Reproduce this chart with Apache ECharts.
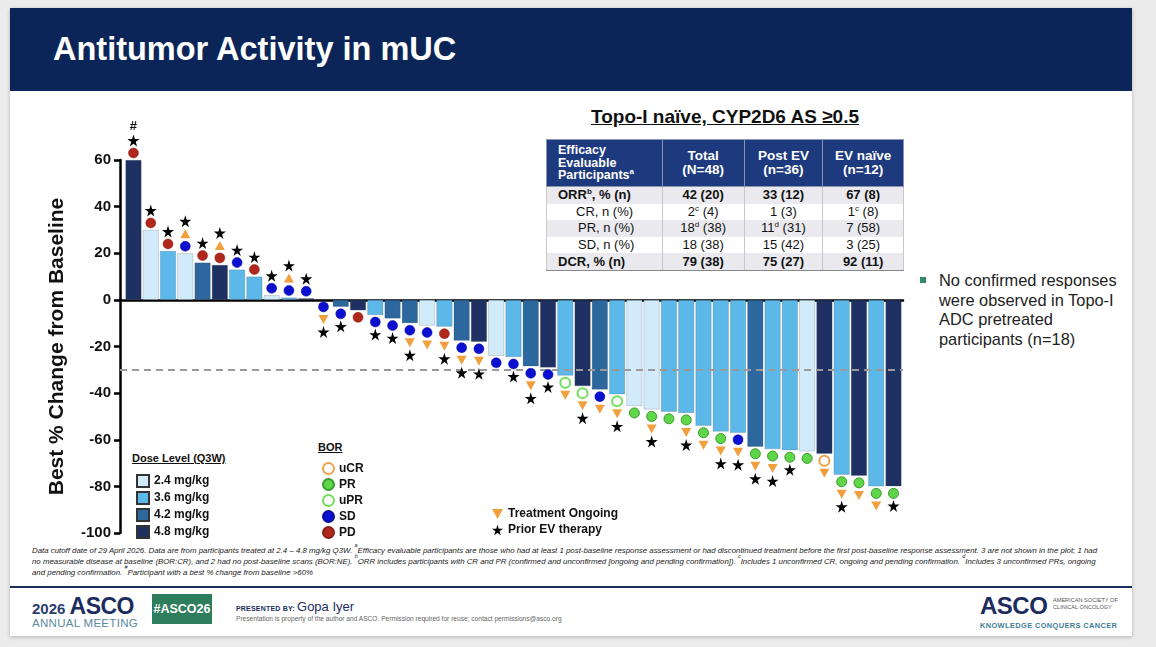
<!DOCTYPE html>
<html>
<head>
<meta charset="utf-8">
<script src="https://cdn.jsdelivr.net/npm/echarts@6/dist/echarts.min.js"></script>
<style>
  html, body { margin: 0; padding: 0; }
  body { width: 1156px; height: 647px; background: #ececec; position: relative; overflow: hidden;
         font-family: 'Liberation Sans', Arial, sans-serif; color: #111; }
  #slide { position: absolute; left: 10px; top: 8px; width: 1122px; height: 628px; background: #fff;
           box-shadow: 0 1px 4px rgba(0,0,0,0.25); }
  #titlebar { position: absolute; left: 10px; top: 8px; width: 1122px; height: 83px; background: #0c2559; }
  #title { position: absolute; left: 53px; top: 31px; color: #fff; font-weight: bold; font-size: 32.5px; }
  #chart { position: absolute; left: 0; top: 0; width: 1156px; height: 647px; }
  #tblTitle { position: absolute; left: 546px; width: 358px; top: 106px; text-align: center;
              font-weight: bold; font-size: 19px; text-decoration: underline; }
  #tbl { position: absolute; left: 546px; top: 139px; width: 358px; border-collapse: collapse; font-size: 13px; }
  #tbl th { background: #1e3a7e; color: #fff; font-weight: bold; height: 46px; padding: 0; line-height: 14px;
            border: 1px solid #8a93b0; text-align: center; font-size: 13.5px; }
  #tbl th.c1 { text-align: left; padding-left: 11px; font-size: 12.5px; line-height: 12.5px; }
  #tbl td { height: 16.6px; padding: 0; text-align: center; border-left: 1px solid #c8c8c8; border-right: 1px solid #c8c8c8; line-height: 16px; }
  #tbl td.c1 { text-align: left; padding-left: 11px; }
  #tbl td.ind { padding-left: 29px; }
  #tbl td.ind2 { padding-left: 31px; }
  #tbl tr.g td { background: #e9e9ee; }
  #tbl tr.b td { font-weight: bold; }
  #tbl tr:last-child td { border-bottom: 1px solid #888; }
  #tbl sup { font-size: 8px; line-height: 0; }
  #note { position: absolute; left: 939px; top: 271px; font-size: 16.4px; line-height: 19.5px; color: #222; white-space: nowrap; }
  #bullet { position: absolute; left: 920px; top: 277px; width: 6px; height: 6px; background: #2f8a6c; }
  .lghd { position: absolute; font-weight: bold; font-size: 11px; text-decoration: underline; color: #111; }
  #foot { position: absolute; left: 32px; top: 546px; font-size: 7.85px; line-height: 10.8px; font-style: italic;
          color: #222; white-space: nowrap; }
  #foot sup { font-size: 5.5px; line-height: 0; vertical-align: top; position: relative; top: -1px; }
  #rule { position: absolute; left: 10px; top: 586px; width: 1122px; height: 2px; background: #1c2e5a; }
  #logoL { position: absolute; left: 32px; top: 593px; color: #1c2c5e; white-space: nowrap; }
  #logoL .y { font-size: 15px; font-weight: bold; color: #2b3d6e; }
  #logoL .a { font-size: 23px; font-weight: 900; letter-spacing: -0.5px; }
  #logoL .m { position: absolute; left: 0; top: 24px; font-size: 11.5px; color: #5d8a9e; white-space: nowrap; letter-spacing: 0.3px; }
  #hash { position: absolute; left: 152px; top: 594px; width: 60px; height: 30px; background: #2e7d5c; color: #fff;
          font-weight: bold; font-size: 12.5px; line-height: 30px; text-align: center; }
  #pres { position: absolute; left: 236px; top: 597px; color: #1c2c5e; white-space: nowrap; }
  #pres .s { font-size: 7px; font-weight: bold; letter-spacing: 0.2px; }
  #pres .n { font-size: 13px; }
  #prop { position: absolute; left: 236px; top: 615px; font-size: 6.6px; color: #666; white-space: nowrap; }
  #logoR { position: absolute; left: 980px; top: 592px; color: #1c2c5e; }
  #logoR .a { font-size: 24px; font-weight: 900; letter-spacing: -0.5px; }
  #logoR .s { position: absolute; left: 73px; top: 5px; font-size: 5.6px; line-height: 7px; color: #555; white-space: nowrap; }
  #logoR .k { position: absolute; left: 0; top: 29px; font-size: 7.4px; font-weight: bold; color: #3f7d97; white-space: nowrap; letter-spacing: 0.4px; }
</style>
</head>
<body>
<div id="slide"></div>
<div id="titlebar"></div>
<div id="title">Antitumor Activity in mUC</div>

<div id="tblTitle">Topo-I naïve, CYP2D6 AS ≥0.5</div>
<table id="tbl">
  <colgroup><col style="width:116px"><col style="width:82px"><col style="width:79px"><col style="width:81px"></colgroup>
  <tr><th class="c1">Efficacy<br>Evaluable<br>Participants<sup>a</sup></th><th>Total<br>(N=48)</th><th>Post EV<br>(n=36)</th><th>EV naïve<br>(n=12)</th></tr>
  <tr class="g b"><td class="c1">ORR<sup>b</sup>, % (n)</td><td>42 (20)</td><td>33 (12)</td><td>67 (8)</td></tr>
  <tr><td class="c1 ind">CR, n (%)</td><td>2<sup>c</sup> (4)</td><td>1 (3)</td><td>1<sup>c</sup> (8)</td></tr>
  <tr class="g"><td class="c1 ind2">PR, n (%)</td><td>18<sup>d</sup> (38)</td><td>11<sup>d</sup> (31)</td><td>7 (58)</td></tr>
  <tr><td class="c1 ind2">SD, n (%)</td><td>18 (38)</td><td>15 (42)</td><td>3 (25)</td></tr>
  <tr class="g b"><td class="c1">DCR, % (n)</td><td>79 (38)</td><td>75 (27)</td><td>92 (11)</td></tr>
</table>

<div id="bullet"></div>
<div id="note">No confirmed responses<br>were observed in Topo-I<br>ADC pretreated<br>participants (n=18)</div>

<div class="lghd" style="left:132px;top:452px;">Dose Level (Q3W)</div>
<div class="lghd" style="left:318px;top:441px;">BOR</div>

<div id="foot">Data cutoff date of 29 April 2026. Data are from participants treated at 2.4 – 4.8 mg/kg Q3W. <sup>a</sup>Efficacy evaluable participants are those who had at least 1 post-baseline response assessment or had discontinued treatment before the first post-baseline response assessment. 3 are not shown in the plot; 1 had<br>no measurable disease at baseline (BOR:CR), and 2 had no post-baseline scans (BOR:NE). <sup>b</sup>ORR includes participants with CR and PR (confirmed and unconfirmed [ongoing and pending confirmation]). <sup>c</sup>Includes 1 unconfirmed CR, ongoing and pending confirmation. <sup>d</sup>Includes 3 unconfirmed PRs, ongoing<br>and pending confirmation. <sup>#</sup>Participant with a best % change from baseline &gt;60%</div>
<div id="rule"></div>

<div id="logoL"><span class="y">2026 </span><span class="a">ASCO</span><div class="m">ANNUAL MEETING</div></div>
<div id="hash">#ASCO26</div>
<div id="pres"><span class="s">PRESENTED BY: </span><span class="n">Gopa Iyer</span></div>
<div id="prop">Presentation is property of the author and ASCO. Permission required for reuse; contact permissions@asco.org</div>
<div id="logoR"><span class="a">ASCO</span><div class="s">AMERICAN SOCIETY OF<br>CLINICAL ONCOLOGY</div><div class="k">KNOWLEDGE CONQUERS CANCER</div></div>

<div id="chart"></div>

<script>
// best % change from baseline, one per participant (left to right)
var values = [60, 30, 21, 20, 16, 15, 13, 10, 2, 1,
              0.7, 0, -3, -4.5, -6.5, -8, -10, -11, -11.5, -17.5,
              -18, -24, -24.5, -28.5, -29, -32.5, -37, -38.5, -40.5, -45.5,
              -47, -48, -48.5, -54, -56.5, -57, -63, -64, -64.5, -65,
              -66, -75, -75.5, -80, -80];
var doseLevel = ['4.8', '2.4', '3.6', '2.4', '4.2', '4.8', '3.6', '3.6', '2.4', '3.6',
                 '4.8', '3.6', '4.2', '4.8', '3.6', '4.2', '4.2', '2.4', '3.6', '4.2',
                 '4.8', '2.4', '3.6', '4.2', '4.8', '3.6', '4.8', '4.2', '3.6', '2.4',
                 '2.4', '3.6', '3.6', '3.6', '3.6', '3.6', '4.2', '3.6', '3.6', '2.4',
                 '4.8', '3.6', '4.8', '3.6', '4.8'];
var bor = ['PD', 'PD', 'PD', 'SD', 'PD', 'PD', 'SD', 'PD', 'SD', 'SD',
           'SD', 'SD', 'SD', 'PD', 'SD', 'SD', 'SD', 'SD', 'PD', 'SD',
           'SD', 'SD', 'SD', 'SD', 'SD', 'uPR', 'uPR', 'SD', 'uPR', 'PR',
           'PR', 'PR', 'PR', 'PR', 'PR', 'SD', 'PR', 'PR', 'PR', 'PR',
           'uCR', 'PR', 'PR', 'PR', 'PR'];
var ongoing = [0, 0, 0, 1, 0, 1, 0, 0, 0, 1,
               0, 1, 0, 0, 0, 0, 1, 1, 1, 1,
               1, 0, 0, 1, 0, 1, 1, 1, 1, 0,
               1, 0, 1, 1, 1, 1, 1, 1, 0, 0,
               1, 1, 1, 1, 0];
var priorEV = [1, 1, 1, 1, 1, 1, 1, 1, 1, 1,
               1, 1, 1, 0, 1, 1, 1, 0, 1, 1,
               1, 0, 1, 1, 1, 0, 1, 0, 1, 0,
               1, 0, 1, 0, 1, 1, 1, 1, 1, 0,
               0, 1, 0, 0, 1];
var overMax = [0];   // participants with change > 60%
var yTicks = [-100, 60, 20];  // min, max, step

var doseNames = ['2.4', '3.6', '4.2', '4.8'];
var doseColors = { '2.4': '#d2ebfa', '3.6': '#5cb8e8', '4.2': '#2c679d', '4.8': '#1f3162' };
var borNames = ['uCR', 'PR', 'uPR', 'SD', 'PD'];
var borStyle = {
  uCR: { color: '#fff', borderColor: '#eea24a', borderWidth: 2, opacity: 1 },
  PR:  { color: '#5fd649', borderColor: '#3a9a2e', borderWidth: 1, opacity: 1 },
  uPR: { color: '#fff', borderColor: '#6ee05a', borderWidth: 2, opacity: 1 },
  SD:  { color: '#0a0fd0', borderColor: '#080c9a', borderWidth: 0.5, opacity: 1 },
  PD:  { color: '#b0271c', borderColor: '#8a1f15', borderWidth: 0.5, opacity: 1 }
};
var starPath = 'path://M50,0 L61,35 L98,35 L68,57 L79,91 L50,70 L21,91 L32,57 L2,35 L39,35 Z';
var triPath = 'path://M0,0 L10,0 L5,9 Z';

var chart = echarts.init(document.getElementById('chart'), null, { renderer: 'canvas' });

// marker stacking outward from the bar end
var gap0 = 7, gapStep = 12.5;
var borData = {}, triData = [], starData = [];
borNames.forEach(function (b) { borData[b] = []; });
values.forEach(function (v, i) {
  var dir = v > 0 ? -1 : 1;
  var k = 0;
  borData[bor[i]].push({ value: [i, v], symbolOffset: [0, dir * gap0] });
  k++;
  if (ongoing[i]) {
    triData.push({ value: [i, v], symbolOffset: [0, dir * (gap0 + gapStep * k)], symbolRotate: v > 0 ? 180 : 0 });
    k++;
  }
  if (priorEV[i]) {
    starData.push({ value: [i, v], symbolOffset: [0, dir * (gap0 + gapStep * k)] });
  }
});

var barData = values.map(function (v, i) {
  var item = { value: [i, v], itemStyle: { color: doseColors[doseLevel[i]] } };
  if (overMax.indexOf(i) >= 0) {
    item.label = { show: true, position: 'top', distance: 27, formatter: '#', fontWeight: 'bold', fontSize: 13, color: '#111' };
  }
  return item;
});

var series = [{
  name: 'bars',
  type: 'bar',
  data: barData,
  barWidth: 16,
  itemStyle: { borderColor: 'rgba(60,70,90,0.35)', borderWidth: 0.6 },
  markLine: {
    silent: true, symbol: 'none', label: { show: false },
    lineStyle: { color: '#9a9a9a', type: [7, 5], width: 2 },
    data: [{ yAxis: -30 }]
  },
  z: 2
}];
doseNames.forEach(function (d) {
  series.push({ name: d + ' mg/kg', type: 'scatter', data: [], symbol: 'rect',
    itemStyle: { color: doseColors[d], borderColor: '#333', borderWidth: 1, opacity: 1 } });
});
borNames.forEach(function (b) {
  series.push({ name: b, type: 'scatter', data: borData[b], symbol: 'circle', symbolSize: 10,
    itemStyle: borStyle[b], clip: false, z: 5 });
});
series.push({ name: 'Treatment Ongoing', type: 'scatter', data: triData, symbol: triPath, symbolSize: [10, 9],
  itemStyle: { color: '#f2a03e', opacity: 1 }, clip: false, z: 5 });
series.push({ name: 'Prior EV therapy', type: 'scatter', data: starData, symbol: starPath, symbolSize: 12,
  itemStyle: { color: '#000', opacity: 1 }, clip: false, z: 5 });

var legendText = { fontWeight: 'bold', fontSize: 12, color: '#111', fontFamily: 'Liberation Sans' };

var option = {
  animation: false,
  textStyle: { fontFamily: 'Liberation Sans' },
  grid: { left: 120, top: 160, width: 783, height: 373 },
  xAxis: {
    type: 'value', min: -0.78, max: 44.55,
    axisLine: { onZero: true, lineStyle: { color: '#000', width: 2.5 } },
    axisTick: { show: false }, axisLabel: { show: false }, splitLine: { show: false }
  },
  yAxis: {
    type: 'value', min: yTicks[0], max: yTicks[1], interval: yTicks[2],
    name: 'Best % Change from Baseline', nameLocation: 'middle', nameGap: 52, nameRotate: 90,
    nameTextStyle: { fontWeight: 'bold', fontSize: 21, color: '#111' },
    axisLine: { show: true, onZero: false, lineStyle: { color: '#000', width: 2.5 } },
    axisTick: { show: true, length: 6, lineStyle: { color: '#000', width: 2.5 } },
    axisLabel: { fontWeight: 'bold', fontSize: 15, color: '#111', margin: 9 },
    splitLine: { show: false }
  },
  legend: [{
    data: doseNames.map(function (d) { return d + ' mg/kg'; }),
    orient: 'vertical', left: 131, top: 469, itemWidth: 12, itemHeight: 12, itemGap: 3,
    icon: 'rect', textStyle: legendText, selectedMode: false
  }, {
    data: borNames, orient: 'vertical', left: 317, top: 457, itemWidth: 11, itemHeight: 11, itemGap: 3,
    textStyle: legendText, selectedMode: false
  }, {
    data: ['Treatment Ongoing', 'Prior EV therapy'], orient: 'vertical', left: 487, top: 503,
    itemWidth: 11, itemHeight: 11, itemGap: 4, textStyle: legendText, selectedMode: false
  }],
  series: series
};
chart.setOption(option);
</script>
</body>
</html>
